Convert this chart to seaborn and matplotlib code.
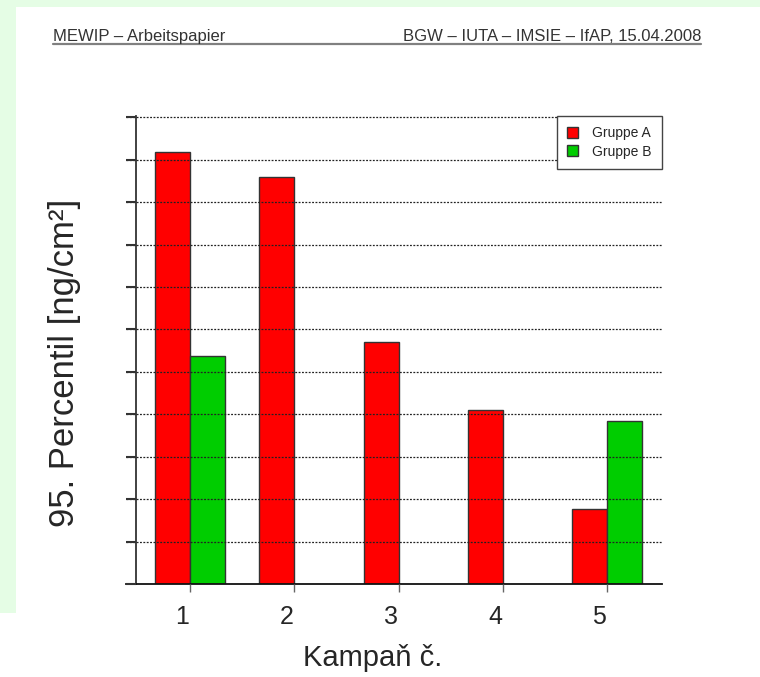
import pandas as pd
import seaborn as sns
import matplotlib.pyplot as plt
from matplotlib.patches import Rectangle
from matplotlib.lines import Line2D
from matplotlib.transforms import ScaledTranslation

# data (units = y grid steps)
kampane = ["1", "2", "3", "4", "5"]
gruppe_a = [10.18, 9.60, 5.71, 4.11, 1.76]
gruppe_b = [5.38, None, None, None, 3.84]
skupiny = ["Gruppe A", "Gruppe B"]
barvy = ["#ff0000", "#00cd00"]
y_ticks = list(range(0, 12))

df = pd.DataFrame({
    "Kampaň": kampane * 2,
    "Gruppe": [skupiny[0]] * 5 + [skupiny[1]] * 5,
    "Wert": gruppe_a + gruppe_b,
}).dropna()

sns.set_style("white")
plt.rcParams["font.family"] = ["Liberation Sans", "DejaVu Sans"]

fig = plt.figure(figsize=(7.6, 6.77), dpi=100)
fig.patch.set_facecolor("#e5fde5")
# white page over the pale green frame
fig.add_artist(Rectangle((16 / 760, 0), 1, 1 - 7 / 677, transform=fig.transFigure,
                         facecolor="white", edgecolor="none", zorder=0))
fig.add_artist(Rectangle((0, 0), 16 / 760, 64 / 677, transform=fig.transFigure,
                         facecolor="white", edgecolor="none", zorder=0))

# page header
fig.text(53 / 760, 1 - 41 / 677, "MEWIP – Arbeitspapier", fontsize=12,
         color="#333333", va="baseline")
fig.text(701 / 760, 1 - 41 / 677, "BGW – IUTA – IMSIE – IfAP, 15.04.2008", fontsize=12,
         color="#333333", va="baseline", ha="right")
fig.add_artist(Line2D([53 / 760, 701 / 760], [1 - 44 / 677] * 2, color="#808080",
                      lw=1.6, transform=fig.transFigure))

ax = fig.add_axes([126.5 / 760, 93 / 677, 535.5 / 760, 468 / 677])
sns.barplot(data=df, x="Kampaň", y="Wert", hue="Gruppe", order=kampane,
            hue_order=skupiny, palette=dict(zip(skupiny, barvy)),
            width=0.671, gap=0, saturation=1, errorbar=None,
            edgecolor="#333333", linewidth=1, ax=ax)

ax.set_xlim(-0.609, 4.525)
ax.set_ylim(0, 11.03)
ax.set_yticks(y_ticks)
ax.set_yticklabels([])
ax.set_axisbelow(False)
ax.yaxis.grid(True, linestyle=(0, (1.5, 1.2)), color="#222222", linewidth=0.9)
ax.xaxis.grid(False)

for s in ["top", "right"]:
    ax.spines[s].set_visible(False)
ax.spines["left"].set_position(("data", -0.521))
ax.spines["left"].set_color("#333333")
ax.spines["left"].set_linewidth(1.3)
ax.spines["bottom"].set_color("#111111")
ax.spines["bottom"].set_linewidth(1.3)
ax.tick_params(axis="y", left=True, direction="out", length=7.2, width=1.5, color="#333333")
ax.tick_params(axis="x", bottom=True, direction="out", length=6, width=1, color="#666666",
               pad=9, labelsize=18)
# labels in the scan sit a bit left of their ticks
shift = ScaledTranslation(-8 / 100, 0, fig.dpi_scale_trans)
for t in ax.get_xticklabels():
    t.set_transform(t.get_transform() + shift)

ax.set_ylabel("95. Percentil [ng/cm²]", fontsize=25, va="center")
ax.yaxis.set_label_coords(-0.1167, 0.473)
ax.set_xlabel("Kampaň č.", fontsize=21, va="center")
ax.xaxis.set_label_coords(0.46, -0.158)

handles, labels = ax.get_legend_handles_labels()
leg = ax.legend(handles, labels, loc="upper right", bbox_to_anchor=(1, 1.0),
                borderaxespad=0, fancybox=False, framealpha=1, edgecolor="#444444",
                fontsize=10, handlelength=0.8, handleheight=0.8, handletextpad=1.0,
                borderpad=0.75, labelspacing=0.3)
leg.get_frame().set_linewidth(1)

fig.savefig("out.png", dpi=100, facecolor=fig.get_facecolor())
